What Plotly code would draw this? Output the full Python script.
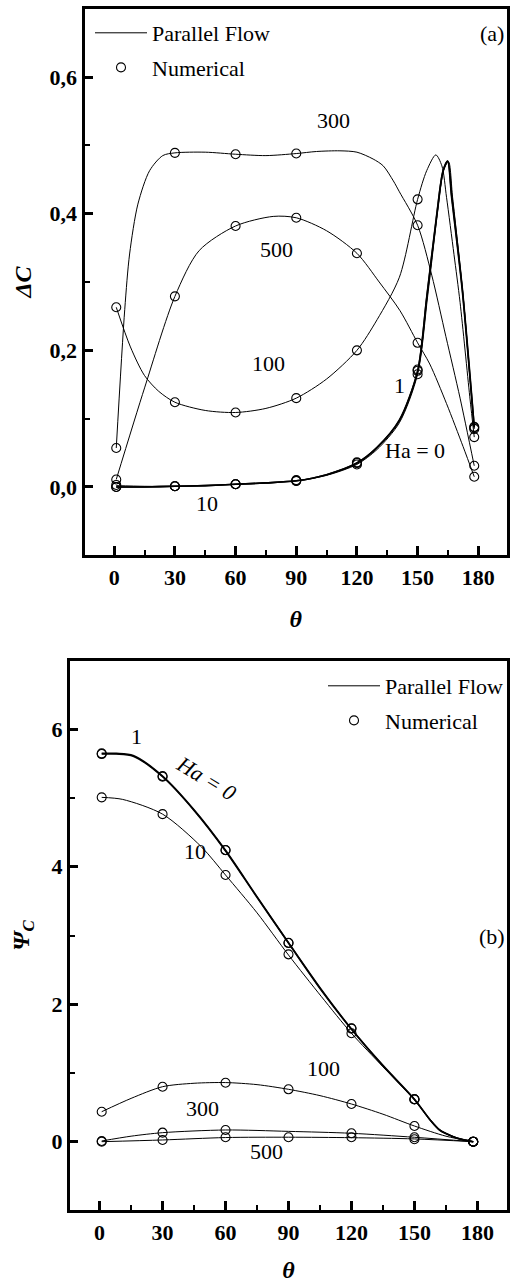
import plotly.graph_objects as go

# ---------------- data: panel (a)  ΔC vs θ ----------------
theta_num = [1, 30, 60, 90, 120, 150, 178]

a_line_theta_0 = [1, 15, 30, 45, 60, 75, 90, 105, 120, 130, 141, 150, 154.5, 159.5, 162.5, 164.8, 166.8, 172, 176.7, 178]
a_line_dc_0 = [0.000, 0.000, 0.001, 0.002, 0.004, 0.006, 0.009, 0.018, 0.035, 0.058, 0.098, 0.170, 0.278, 0.400, 0.462, 0.477, 0.424, 0.290, 0.132, 0.088]
a_line_theta_1 = [1, 15, 30, 45, 60, 75, 90, 105, 120, 130, 141, 150, 154.5, 159.5, 162.5, 164.9, 166.9, 172.1, 176.8, 178]
a_line_dc_1 = [0.000, 0.000, 0.001, 0.002, 0.004, 0.006, 0.009, 0.018, 0.035, 0.058, 0.097, 0.169, 0.276, 0.398, 0.461, 0.477, 0.426, 0.291, 0.132, 0.087]
a_line_theta_10 = [1, 15, 30, 45, 60, 75, 90, 105, 120, 130, 141, 150, 155, 160, 163, 165.3, 167.3, 172.5, 177, 178]
a_line_dc_10 = [0.002, 0.001, 0.001, 0.002, 0.004, 0.006, 0.009, 0.017, 0.033, 0.055, 0.094, 0.165, 0.280, 0.405, 0.465, 0.476, 0.424, 0.280, 0.118, 0.085]
a_line_theta_100 = [1, 8, 15, 22, 30, 45, 60, 75, 90, 105, 120, 130, 141, 150, 154.5, 159, 162, 164.3, 168, 171, 175.8, 178]
a_line_dc_100 = [0.263, 0.205, 0.163, 0.140, 0.124, 0.112, 0.109, 0.115, 0.130, 0.158, 0.200, 0.245, 0.307, 0.421, 0.463, 0.486, 0.470, 0.424, 0.340, 0.270, 0.132, 0.073]
a_line_theta_300 = [1, 5.2, 7.6, 11.7, 17.5, 24, 30, 45, 60, 75, 90, 100, 111.6, 120, 128, 133, 138, 141, 150, 157, 164, 171, 178]
a_line_dc_300 = [0.057, 0.260, 0.341, 0.414, 0.463, 0.485, 0.489, 0.490, 0.487, 0.485, 0.488, 0.491, 0.492, 0.490, 0.480, 0.470, 0.448, 0.432, 0.383, 0.310, 0.220, 0.130, 0.031]
a_line_theta_500 = [1, 15, 30, 42, 60, 78.6, 90, 105, 120, 131, 141.3, 150, 156, 164.3, 172.5, 178]
a_line_dc_500 = [0.011, 0.145, 0.279, 0.346, 0.382, 0.396, 0.394, 0.375, 0.342, 0.300, 0.258, 0.211, 0.180, 0.122, 0.059, 0.015]

a_num_0 = [0.000, 0.001, 0.004, 0.009, 0.036, 0.172, 0.088]
a_num_1 = [0.000, 0.001, 0.004, 0.009, 0.035, 0.170, 0.087]
a_num_10 = [0.003, 0.001, 0.004, 0.010, 0.033, 0.165, 0.085]
a_num_100 = [0.263, 0.124, 0.109, 0.130, 0.200, 0.421, 0.073]
a_num_300 = [0.057, 0.489, 0.487, 0.488, None, 0.383, 0.031]
a_num_500 = [0.011, 0.279, 0.382, 0.394, 0.342, 0.211, 0.015]

# ---------------- data: panel (b)  Ψc vs θ ----------------
b_line_theta_0 = [1, 8, 16, 30, 45, 60, 74, 90, 105.7, 120, 135, 150, 157.5, 162, 168.5, 173, 178]
b_line_psi_0 = [5.65, 5.65, 5.62, 5.32, 4.83, 4.24, 3.61, 2.895, 2.21, 1.64, 1.11, 0.617, 0.316, 0.170, 0.073, 0.030, 0.000]
b_line_psi_1 = [5.64, 5.64, 5.61, 5.31, 4.82, 4.23, 3.60, 2.890, 2.20, 1.635, 1.10, 0.615, 0.316, 0.170, 0.073, 0.030, 0.000]
b_line_theta_10 = [1, 11, 30, 48.5, 60, 75, 90, 105.7, 120, 135, 150, 157.5, 162, 168.5, 173, 178]
b_line_psi_10 = [5.01, 4.98, 4.766, 4.29, 3.88, 3.33, 2.716, 2.11, 1.577, 1.09, 0.610, 0.316, 0.170, 0.073, 0.030, 0.000]
b_line_theta_100 = [1, 15, 30, 45, 60, 75, 90, 105, 120, 135, 150, 165, 178]
b_line_psi_100 = [0.436, 0.63, 0.80, 0.85, 0.86, 0.83, 0.762, 0.67, 0.548, 0.40, 0.228, 0.08, 0.0]
b_line_theta_300 = [1, 15, 30, 60, 90, 120, 150, 178]
b_line_psi_300 = [0.01, 0.08, 0.131, 0.17, 0.15, 0.122, 0.064, 0.0]
b_line_theta_500 = [1, 30, 60, 90, 120, 150, 178]
b_line_psi_500 = [0.0, 0.025, 0.060, 0.065, 0.058, 0.040, 0.0]

b_num_0 = [5.65, 5.32, 4.243, 2.895, 1.650, 0.617, 0.0]
b_num_1 = [5.64, 5.31, 4.240, 2.890, 1.645, 0.615, 0.0]
b_num_10 = [5.01, 4.766, 3.880, 2.726, 1.577, 0.617, 0.0]
b_num_100 = [0.436, 0.800, 0.858, 0.762, 0.548, 0.228, 0.0]
b_num_300 = [0.010, 0.131, 0.170, None, 0.122, 0.064, 0.0]
b_num_500 = [0.000, 0.025, 0.064, 0.064, 0.064, 0.035, 0.0]

x_ticks = [0, 30, 60, 90, 120, 150, 180]

FONT = "Liberation Serif, Times New Roman, Times, serif"
W, H = 511, 1283

fig = go.Figure()

def add_line(x, y, xa, ya, width):
    fig.add_trace(go.Scatter(x=x, y=y, mode="lines", xaxis=xa, yaxis=ya,
                             line=dict(color="black", width=width, shape="spline", smoothing=0.8),
                             showlegend=False, hoverinfo="skip"))

def add_pts(x, y, xa, ya):
    fig.add_trace(go.Scatter(x=x, y=y, mode="markers", xaxis=xa, yaxis=ya,
                             marker=dict(symbol="circle-open", size=9, color="black", line=dict(width=1.1)),
                             showlegend=False, hoverinfo="skip"))

# panel (a)
add_line(a_line_theta_0, a_line_dc_0, "x", "y", 1.6)
add_line(a_line_theta_1, a_line_dc_1, "x", "y", 1.6)
add_line(a_line_theta_10, a_line_dc_10, "x", "y", 1.0)
add_line(a_line_theta_100, a_line_dc_100, "x", "y", 1.0)
add_line(a_line_theta_300, a_line_dc_300, "x", "y", 1.0)
add_line(a_line_theta_500, a_line_dc_500, "x", "y", 1.0)
for s in [a_num_0, a_num_1, a_num_10, a_num_100, a_num_300, a_num_500]:
    add_pts(theta_num, s, "x", "y")

# panel (b)
add_line(b_line_theta_0, b_line_psi_0, "x2", "y2", 1.6)
add_line(b_line_theta_0, b_line_psi_1, "x2", "y2", 1.6)
add_line(b_line_theta_10, b_line_psi_10, "x2", "y2", 1.0)
add_line(b_line_theta_100, b_line_psi_100, "x2", "y2", 1.0)
add_line(b_line_theta_300, b_line_psi_300, "x2", "y2", 1.0)
add_line(b_line_theta_500, b_line_psi_500, "x2", "y2", 1.0)
for s in [b_num_0, b_num_1, b_num_10, b_num_100, b_num_300, b_num_500]:
    add_pts(theta_num, s, "x2", "y2")

# legend entries
for lg, xa, ya in [("legend", "x", "y"), ("legend2", "x2", "y2")]:
    fig.add_trace(go.Scatter(x=[None], y=[None], mode="lines", name="Parallel Flow",
                             xaxis=xa, yaxis=ya, legend=lg, legendgroup=lg + "a",
                             line=dict(color="black", width=1)))
    fig.add_trace(go.Scatter(x=[None], y=[None], mode="markers", name="Numerical",
                             xaxis=xa, yaxis=ya, legend=lg, legendgroup=lg + "b",
                             marker=dict(symbol="circle-open", size=9, color="black", line=dict(width=1.1))))

def px_x(p):
    return p / W

def px_y(p):
    return 1 - p / H

tickfont = dict(family=FONT, size=22, color="black", weight="bold")
common_axis = dict(showline=True, linewidth=3, linecolor="black", mirror=True,
                   ticks="inside", tickwidth=2.5, tickcolor="black", showgrid=False,
                   zeroline=False, tickfont=tickfont)

fig.update_layout(
    width=W, height=H, autosize=False,
    margin=dict(l=0, r=0, t=0, b=0),
    paper_bgcolor="white", plot_bgcolor="white",
    separators=",.",
    font=dict(family=FONT, size=22, color="black"),
    xaxis=dict(domain=[px_x(84.5), px_x(507)], range=[-14.7, 194.2], anchor="y",
               tickvals=x_ticks, ticklen=9,
               minor=dict(dtick=15, tick0=15, ticks="inside", ticklen=5, tickwidth=2, tickcolor="black"),
               title=dict(text="<b><i>θ</i></b>", font=dict(family=FONT, size=24), standoff=22),
               **common_axis),
    yaxis=dict(domain=[px_y(555.3), px_y(8.7)], range=[-0.1, 0.7], anchor="x",
               dtick=0.2, tick0=0, tickformat=".1f", ticklen=8,
               minor=dict(dtick=0.1, tick0=0.1, ticks="inside", ticklen=5, tickwidth=2, tickcolor="black"),
               title=dict(text="<b><i>ΔC</i></b>", font=dict(family=FONT, size=24), standoff=12),
               **common_axis),
    xaxis2=dict(domain=[px_x(69.8), px_x(507)], range=[-14.2, 194.1], anchor="y2",
                tickvals=x_ticks, ticklen=9,
                minor=dict(dtick=15, tick0=15, ticks="inside", ticklen=5, tickwidth=2, tickcolor="black"),
                title=dict(text="<b><i>θ</i></b>", font=dict(family=FONT, size=24), standoff=22),
                **common_axis),
    yaxis2=dict(domain=[px_y(1210.4), px_y(660.6)], range=[-1, 7], anchor="x2",
                dtick=2, tick0=0, ticklen=8,
                minor=dict(dtick=1, tick0=1, ticks="inside", ticklen=5, tickwidth=2, tickcolor="black"),
                title=dict(text="<b><i>Ψ<sub>C</sub></i></b>", font=dict(family=FONT, size=24), standoff=16),
                **common_axis),
    legend=dict(x=px_x(90), y=px_y(12), xanchor="left", yanchor="top",
                bgcolor="rgba(0,0,0,0)", font=dict(family=FONT, size=22),
                tracegroupgap=3, itemwidth=52),
    legend2=dict(x=px_x(323), y=px_y(665), xanchor="left", yanchor="top",
                 bgcolor="rgba(0,0,0,0)", font=dict(family=FONT, size=22),
                 tracegroupgap=3, itemwidth=52),
)

lab = dict(family=FONT, size=22, color="black")
annots = [
    ("300", 108.3, 0.536, "x", "y", 0, lab),
    ("500", 80.3, 0.348, "x", "y", 0, lab),
    ("100", 76.1, 0.181, "x", "y", 0, lab),
    ("1", 140.9, 0.149, "x", "y", 0, lab),
    ("Ha = 0", 148.6, 0.054, "x", "y", 0, lab),
    ("10", 45.7, -0.024, "x", "y", 0, lab),
    ("(a)", 187.0, 0.664, "x", "y", 0, lab),
    ("1", 17.8, 5.89, "x2", "y2", 0, lab),
    ("<i>Ha = 0</i>", 51.1, 5.29, "x2", "y2", 31, lab),
    ("10", 45.4, 4.22, "x2", "y2", 0, lab),
    ("(b)", 186.9, 2.98, "x2", "y2", 0, lab),
    ("100", 106.7, 1.07, "x2", "y2", 0, lab),
    ("300", 48.8, 0.486, "x2", "y2", 0, lab),
    ("500", 79.7, -0.145, "x2", "y2", 0, lab),
]
for t, x, y, xr, yr, ang, f in annots:
    fig.add_annotation(text=t, x=x, y=y, xref=xr, yref=yr, showarrow=False,
                       textangle=ang, font=f, xanchor="center", yanchor="middle")

fig.write_html("out.html")
